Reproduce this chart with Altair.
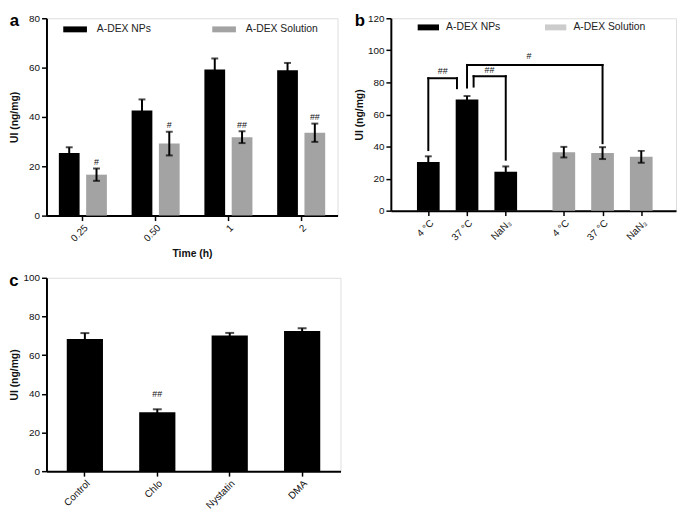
import altair as alt
import pandas as pd

FONT = "Liberation Sans"
BLACK = "#000000"
GRAY = "#a3a3a3"
LIGHT = "#cccccc"

# ---------------- Panel a data ----------------
series_names = ["A-DEX NPs", "A-DEX Solution"]
times = ["0.25", "0.50", "1", "2"]
np_a = [25.4, 42.6, 59.2, 58.9]
np_a_err = [2.3, 4.5, 4.5, 3.0]
sol_a = [16.6, 29.2, 31.8, 33.6]
sol_a_err = [2.5, 4.8, 2.4, 3.7]
ann_a_text = ["#", "#", "##", "##"]
ann_a_y = [21.9, 36.6, 36.8, 39.9]

# ---------------- Panel b data ----------------
conds = ["4 °C", "37 °C", "NaN₃"]
np_b = [30.3, 69.3, 24.3]
np_b_err = [3.6, 2.2, 3.3]
sol_b = [36.5, 35.9, 33.6]
sol_b_err = [3.3, 3.7, 3.7]
br_left_x = [1.0, 2.17, 2.0]
br_right_x = [1.74, 3.0, 5.5]
br_top_y = [82.6, 83.9, 90.9]
br_left_y = [37.8, 77.4, 76.8]
br_right_y = [76.4, 31.8, 42.1]
br_text = ["##", "##", "#"]
br_text_x = [1.37, 2.58, 3.6]
br_text_y = [86.8, 87.6, 96.3]

# ---------------- Panel c data ----------------
treats = ["Control", "Chlo", "Nystatin", "DMA"]
c_vals = [68.3, 30.5, 70.2, 72.5]
c_err = [3.1, 1.5, 1.3, 1.4]
ann_c_text = ["", "##", "", ""]
ann_c_y = [0, 39.8, 0, 0]

# ---------------- tables ----------------
rows_a = []
for i, t in enumerate(times):
    for s, v, e in ((series_names[0], np_a[i], np_a_err[i]), (series_names[1], sol_a[i], sol_a_err[i])):
        rows_a.append(dict(time=t, series=s, value=v, lo=v - e, hi=v + e))
df_a = pd.DataFrame(rows_a)
df_a_ann = pd.DataFrame(dict(time=times, series=series_names[1], text=ann_a_text, y=ann_a_y))

rows_b = []
for gi, (s, vals, errs) in enumerate(((series_names[0], np_b, np_b_err), (series_names[1], sol_b, sol_b_err))):
    for ci, c in enumerate(conds):
        pos = ci + 1 + gi * 3.5
        rows_b.append(dict(pos=pos, label=c, series=s, value=vals[ci], lo=vals[ci] - errs[ci], hi=vals[ci] + errs[ci]))
df_b = pd.DataFrame(rows_b)
seg = []
for i in range(len(br_top_y)):
    seg.append(dict(x=br_left_x[i], x2=br_right_x[i], y=br_top_y[i], y2=br_top_y[i]))
    seg.append(dict(x=br_left_x[i], x2=br_left_x[i], y=br_top_y[i], y2=br_left_y[i]))
    seg.append(dict(x=br_right_x[i], x2=br_right_x[i], y=br_top_y[i], y2=br_right_y[i]))
df_seg = pd.DataFrame(seg)
df_b_ann = pd.DataFrame(dict(x=br_text_x, y=br_text_y, text=br_text))

df_c = pd.DataFrame(dict(treat=treats, value=c_vals,
                         lo=[v - e for v, e in zip(c_vals, c_err)],
                         hi=[v + e for v, e in zip(c_vals, c_err)]))
df_c_ann = pd.DataFrame(dict(treat=treats, text=ann_c_text, y=ann_c_y))
df_c_ann = df_c_ann[df_c_ann.text != ""]

axis_common = dict(domainColor=BLACK, domainWidth=2, tickColor=BLACK, tickWidth=1.5, tickSize=5,
                   labelColor="#111111", labelFontSize=10, labelFont=FONT, grid=False,
                   titleFont=FONT, titleFontSize=10.5, titleFontWeight="bold", titleColor="#111111",
                   labelPadding=2, labelOverlap=False)

def panel_title(letter):
    return alt.TitleParams(letter, anchor="start", frame="bounds", fontSize=17, fontWeight="bold",
                           font=FONT, offset=-17, color=BLACK)

def yenc(field, scale, axis):
    return alt.Y(field, scale=scale, axis=axis, stack=None)

# ---------------- Panel a ----------------
xa = alt.X("time:N", sort=times, scale=alt.Scale(paddingInner=0.34, paddingOuter=0.17),
           axis=alt.Axis(title="Time (h)", labelAngle=-45, titlePadding=6, **axis_common))
xoa = alt.XOffset("series:N", sort=series_names, scale=alt.Scale(domain=series_names, paddingInner=0.24, paddingOuter=0))
ya_scale = alt.Scale(domain=[0, 80], nice=False)
ya_axis = alt.Axis(title="UI (ng/mg)", values=[0, 20, 40, 60, 80], tickCount=5, titlePadding=9, **axis_common)

bars_a = alt.Chart(df_a).mark_bar().encode(
    x=xa, xOffset=xoa,
    y=yenc("value:Q", ya_scale, ya_axis),
    color=alt.Color("series:N", sort=series_names,
                    scale=alt.Scale(domain=series_names, range=[BLACK, GRAY]),
                    legend=alt.Legend(title=None, orient="none", legendX=23, legendY=5,
                                      direction="horizontal", symbolType="M-2,-0.5H2V0.5H-2Z",
                                      symbolSize=144, symbolStrokeWidth=0, labelOffset=16,
                                      columnPadding=62, labelFont=FONT, labelFontSize=10.5,
                                      labelColor="#222222", padding=0)))
err_a = alt.Chart(df_a).mark_rule(color=BLACK, strokeWidth=2).encode(
    x=xa, xOffset=xoa, y=yenc("lo:Q", ya_scale, ya_axis), y2="hi:Q")
caps_hi_a = alt.Chart(df_a).mark_tick(color=BLACK, thickness=2, size=7, orient="horizontal").encode(
    x=xa, xOffset=xoa, y=yenc("hi:Q", ya_scale, ya_axis))
caps_lo_a = alt.Chart(df_a).mark_tick(color=BLACK, thickness=2, size=7, orient="horizontal").encode(
    x=xa, xOffset=xoa, y=yenc("lo:Q", ya_scale, ya_axis))
ann_a = alt.Chart(df_a_ann).mark_text(font=FONT, fontSize=9, color="#111111", baseline="middle").encode(
    x=xa, xOffset=xoa, y=yenc("y:Q", ya_scale, ya_axis), text="text:N")
panel_a = alt.layer(bars_a, err_a, caps_hi_a, caps_lo_a, ann_a).properties(
    width=295, height=200, title=panel_title("a"))

# ---------------- Panel b ----------------
positions = list(df_b["pos"])
labels = list(df_b["label"])
label_expr = " : ".join(f"datum.value == {p} ? '{l}'" for p, l in zip(positions, labels)) + " : ''"
xb_scale = alt.Scale(domain=[0.16, 7.27], nice=False, zero=False)
xb_axis = alt.Axis(title=None, values=positions, labelExpr=label_expr, labelAngle=-45, **axis_common)
xb = alt.X("pos:Q", scale=xb_scale, axis=xb_axis)
yb_scale = alt.Scale(domain=[0, 120], nice=False)
yb_axis = alt.Axis(title="UI (ng/mg)", values=[0, 20, 40, 60, 80, 100, 120], tickCount=7,
                   titlePadding=3, **axis_common)

bars_b = alt.Chart(df_b).mark_bar(size=23, orient="vertical").encode(
    x=xb, y=yenc("value:Q", yb_scale, yb_axis),
    color=alt.Color("series:N", scale=alt.Scale(domain=series_names, range=[BLACK, GRAY]), legend=None))
legend_b = alt.Chart(df_b).mark_bar(size=1, orient="vertical").encode(
    x=xb, y=alt.datum(0, scale=yb_scale, axis=yb_axis), y2=alt.datum(0),
    color=alt.Color("series:N", scale=alt.Scale(domain=series_names, range=[BLACK, LIGHT]),
                    legend=alt.Legend(title=None, orient="none", legendX=32, legendY=3,
                                      direction="horizontal", symbolType="M-1.8,-0.5H1.8V0.5H-1.8Z",
                                      symbolSize=144, symbolStrokeWidth=0, labelOffset=12,
                                      columnPadding=45, labelFont=FONT, labelFontSize=10.5,
                                      labelColor="#222222", padding=0)))
err_b = alt.Chart(df_b).mark_rule(color=BLACK, strokeWidth=2).encode(
    x=xb, y=yenc("lo:Q", yb_scale, yb_axis), y2="hi:Q")
caps_hi_b = alt.Chart(df_b).mark_tick(color=BLACK, thickness=2, size=7, orient="horizontal").encode(
    x=xb, y=yenc("hi:Q", yb_scale, yb_axis))
caps_lo_b = alt.Chart(df_b).mark_tick(color=BLACK, thickness=2, size=7, orient="horizontal").encode(
    x=xb, y=yenc("lo:Q", yb_scale, yb_axis))
brackets = alt.Chart(df_seg).mark_rule(color=BLACK, strokeWidth=2, strokeCap="square").encode(
    x=alt.X("x:Q", scale=xb_scale, axis=xb_axis), x2="x2:Q",
    y=yenc("y:Q", yb_scale, yb_axis), y2="y2:Q")
ann_b = alt.Chart(df_b_ann).mark_text(font=FONT, fontSize=9, color="#111111", baseline="middle").encode(
    x=alt.X("x:Q", scale=xb_scale, axis=xb_axis), y=yenc("y:Q", yb_scale, yb_axis), text="text:N")
panel_b = alt.layer(bars_b, legend_b, err_b, caps_hi_b, caps_lo_b, brackets, ann_b).resolve_scale(
    color="independent").properties(width=289, height=195, title=panel_title("b"))

# ---------------- Panel c ----------------
xc = alt.X("treat:N", sort=treats, scale=alt.Scale(paddingInner=0.5, paddingOuter=0.28),
           axis=alt.Axis(title=None, labelAngle=-45, **axis_common))
yc_scale = alt.Scale(domain=[0, 100], nice=False)
yc_axis = alt.Axis(title="UI (ng/mg)", values=[0, 20, 40, 60, 80, 100], tickCount=6,
                   titlePadding=4, **axis_common)
bars_c = alt.Chart(df_c).mark_bar(color=BLACK).encode(
    x=xc, y=yenc("value:Q", yc_scale, yc_axis))
err_c = alt.Chart(df_c).mark_rule(color=BLACK, strokeWidth=2).encode(
    x=xc, y=yenc("lo:Q", yc_scale, yc_axis), y2="hi:Q")
caps_c = alt.Chart(df_c).mark_tick(color=BLACK, thickness=2, size=9, orient="horizontal").encode(
    x=xc, y=yenc("hi:Q", yc_scale, yc_axis))
ann_c = alt.Chart(df_c_ann).mark_text(font=FONT, fontSize=9, color="#111111", baseline="middle").encode(
    x=xc, y=yenc("y:Q", yc_scale, yc_axis), text="text:N")
panel_c = alt.layer(bars_c, err_c, caps_c, ann_c).properties(
    width=298, height=196, title=panel_title("c"))

top = alt.hconcat(panel_a, panel_b, spacing=15)
chart = alt.vconcat(top, panel_c, spacing=11).properties(
    padding={"left": 0, "top": 0, "right": 0, "bottom": 0}
).configure_view(strokeWidth=0).configure(font=FONT)

chart.save("out.html", embed_options={"renderer": "svg", "actions": False})
